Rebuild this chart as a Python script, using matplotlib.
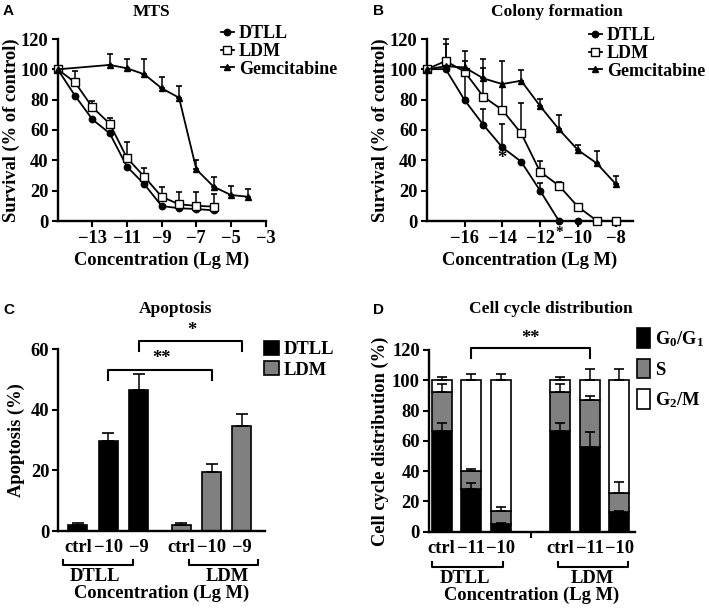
import numpy as np
import matplotlib
matplotlib.use("Agg")
import matplotlib.pyplot as plt

# ---- data ----
# A: MTS
a_x = [-15, -14, -13, -12, -11, -10, -9, -8, -7, -6]
a_dtll = [100, 82.6, 67, 57.8, 35.8, 24.2, 9.9, 8.4, 7.9, 7.0]
a_ldm = [100, 91.4, 75, 64.2, 41.5, 29.2, 16, 11, 10, 9.5]
a_ldm_err = [0, 7.5, 4, 3.8, 10.8, 5.5, 6.2, 8.3, 8.9, 8.3]
a_gem_x = [-15, -12, -11, -10, -9, -8, -7, -6, -5, -4]
a_gem = [100, 102.9, 100.7, 96.7, 87.5, 81.3, 34, 22.6, 17.1, 16]
a_gem_err = [0, 7, 6, 10, 7.5, 7.5, 6, 6.6, 6, 5.3]

# B: colony formation
b_x = [-18, -17, -16, -15, -14, -13, -12, -11, -10, -9, -8]
b_dtll = [100, 100.2, 79.8, 63.3, 48.6, 39.1, 20, 0, 0, 0, 0]
b_dtll_err = [0, 0, 25.9, 10.5, 15.6, 0, 4.8, 0, 0, 0, 0]
b_ldm = [100, 105.5, 98.5, 82, 73.2, 57.8, 32.5, 23.3, 9.4, 0.2, 0]
b_ldm_err = [0, 14.5, 13.5, 24.8, 32.5, 19.8, 7.3, 2.6, 0, 0, 0]
b_gem = [100, 102, 101.3, 94, 90.3, 92.5, 75.8, 60.4, 46.8, 38, 24.4]
b_gem_err = [0, 14.5, 0, 7, 0, 7, 4.6, 9.5, 3.3, 8.4, 5.3]

# C: apoptosis
c_labels = ["ctrl", "\u221210", "\u22129"]
c_dtll = [2.0, 29.8, 46.7]
c_dtll_err = [0.7, 2.7, 5.2]
c_ldm = [2.0, 19.4, 34.8]
c_ldm_err = [0.8, 2.8, 4.0]

# D: cell cycle
d_labels = ["ctrl", "\u221211", "\u221210", "ctrl", "\u221211", "\u221210"]
d_g1 = [66.5, 28.2, 5.0, 66.5, 56.2, 12.8]
d_g1_err = [5.5, 4.2, 0.7, 5.5, 9.4, 1.1]
d_s = [26.0, 11.8, 8.4, 26.0, 30.8, 12.5]
d_s_err = [4.9, 1.6, 3.1, 4.9, 2.9, 7.3]
d_g2m = [7.5, 60.0, 86.6, 7.5, 13.0, 74.7]
d_g2m_err = [2, 4, 4, 2, 7.5, 7.5]

plt.rcParams['font.family'] = ['Liberation Serif', 'DejaVu Serif']
plt.rcParams['font.weight'] = 'bold'
plt.rcParams['axes.labelweight'] = 'bold'
plt.rcParams['mathtext.fontset'] = 'custom'
plt.rcParams['mathtext.rm'] = 'Liberation Serif:bold'
plt.rcParams['mathtext.it'] = 'Liberation Serif:bold'
plt.rcParams['mathtext.bf'] = 'Liberation Serif:bold'
plt.rcParams['mathtext.default'] = 'rm'

W, H = 709, 609
fig = plt.figure(figsize=(W / 100, H / 100), dpi=100)
FS = 13.3
LFS = 13
TFS = 12.5
GREY = '#808080'


def px_axes(l, r, t, b):
    return fig.add_axes([l / W, 1 - b / H, (r - l) / W, (b - t) / H])


def fx(x):
    return x / W


def fy(y):
    return 1 - y / H


def style(ax):
    for s in ['top', 'right']:
        ax.spines[s].set_visible(False)
    for s in ['left', 'bottom']:
        ax.spines[s].set_linewidth(1.7)
    ax.tick_params(width=1.5, length=4, labelsize=FS, pad=2.5)


def up_err(ax, x, y, e, cap=2.5):
    x = np.array(x); y = np.array(y); e = np.array(e)
    m = e > 0
    ax.errorbar(x[m], y[m], yerr=[np.zeros(m.sum()), e[m]], fmt='none',
                ecolor='k', elinewidth=1.1, capsize=cap, capthick=1.2,
                zorder=2, clip_on=False)


def lines(ax, x, dtll, ldm, gx, gem):
    ax.plot(x, dtll, '-o', color='k', lw=1.3, ms=4.6, zorder=3, clip_on=False, label='DTLL')
    ax.plot(x, ldm, '-s', color='k', lw=1.3, ms=5.3, mfc='white', mew=1, zorder=3, clip_on=False, label='LDM')
    ax.plot(gx, gem, '-^', color='k', lw=1.3, ms=4.6, zorder=3, clip_on=False, label='Gemcitabine')


# ---------------- A ----------------
axA = px_axes(57.7, 265.7, 39, 221)
style(axA)
up_err(axA, a_x, a_ldm, a_ldm_err)
up_err(axA, a_gem_x, a_gem, a_gem_err)
lines(axA, a_x, a_dtll, a_ldm, a_gem_x, a_gem)
axA.set_xlim(-15, -3)
axA.set_ylim(0, 120)
axA.set_xticks([-13, -11, -9, -7, -5, -3])
axA.set_yticks(range(0, 121, 20))
axA.set_ylabel('Survival (% of control)', fontsize=FS, labelpad=0.5)
axA.set_xlabel('Concentration (Lg M)', fontsize=FS, labelpad=3)
axA.legend(loc='upper left', bbox_to_anchor=(fx(221), fy(25)), bbox_transform=fig.transFigure,
           frameon=False, fontsize=LFS, handlelength=0.7, handletextpad=0.3,
           labelspacing=0.05, borderpad=0, borderaxespad=0)

# ---------------- B ----------------
axB = px_axes(426.7, 633.3, 39, 221)
style(axB)
up_err(axB, b_x, b_dtll, b_dtll_err)
up_err(axB, b_x, b_ldm, b_ldm_err)
up_err(axB, b_x, b_gem, b_gem_err)
lines(axB, b_x, b_dtll, b_ldm, b_x, b_gem)
axB.set_xlim(-18, -7.07)
axB.set_ylim(0, 120)
axB.set_xticks([-16, -14, -12, -10, -8])
axB.set_yticks(range(0, 121, 20))
axB.set_ylabel('Survival (% of control)', fontsize=FS, labelpad=0.5)
axB.set_xlabel('Concentration (Lg M)', fontsize=FS, labelpad=3)
axB.text(-14, 41, '*', ha='center', va='center', fontsize=FS)
axB.text(-11.0, -0.03, '*', transform=axB.get_xaxis_transform(), ha='center', va='top', fontsize=11)
axB.legend(loc='upper left', bbox_to_anchor=(fx(589), fy(27)), bbox_transform=fig.transFigure,
           frameon=False, fontsize=LFS, handlelength=0.7, handletextpad=0.3,
           labelspacing=0.05, borderpad=0, borderaxespad=0)

# ---------------- C ----------------
axC = px_axes(58.3, 265, 349.3, 531)
style(axC)
c_pos_d = np.array([0, 1, 2])
c_pos_l = np.array([3.4, 4.4, 5.4])
bw = 0.63
axC.bar(c_pos_d, c_dtll, bw, color='k', edgecolor='k', lw=1.2, zorder=2, label='DTLL')
axC.bar(c_pos_l, c_ldm, bw, color=GREY, edgecolor='k', lw=1.2, zorder=2, label='LDM')
up_err(axC, c_pos_d, c_dtll, c_dtll_err, cap=4)
up_err(axC, c_pos_l, c_ldm, c_ldm_err, cap=4)
axC.set_xlim(-0.64, 6.16)
axC.set_ylim(0, 60)
axC.set_yticks([0, 20, 40, 60])
axC.set_xticks(np.concatenate([c_pos_d, c_pos_l]))
axC.set_xticklabels(c_labels + c_labels)
axC.tick_params(axis='x', length=0, pad=6)
axC.set_ylabel('Apoptosis (%)', fontsize=FS, labelpad=4)
trC = axC.get_xaxis_transform()
# significance brackets
axC.plot([1, 1, 4.4, 4.4], [49.9, 53, 53, 49.9], color='k', lw=1.5, clip_on=False)
axC.text(2.75, 54, '**', ha='center', va='bottom', fontsize=FS)
axC.plot([2, 2, 5.4, 5.4], [59.6, 62.9, 62.9, 59.6], color='k', lw=1.5, clip_on=False)
axC.text(3.75, 63.5, '*', ha='center', va='bottom', fontsize=FS)
# group brackets
axC.plot([-0.47, -0.47, 1.81, 1.81], [-0.16, -0.187, -0.187, -0.16], transform=trC, color='k', lw=1.5, clip_on=False)
axC.plot([3.67, 3.67, 5.94, 5.94], [-0.16, -0.187, -0.187, -0.16], transform=trC, color='k', lw=1.5, clip_on=False)
axC.text(0.57, -0.205, 'DTLL', transform=trC, ha='center', va='top', fontsize=FS)
axC.text(4.93, -0.205, 'LDM', transform=trC, ha='center', va='top', fontsize=FS)
fig.text(fx(161.7), fy(593), 'Concentration (Lg M)', ha='center', va='center', fontsize=FS)
axC.legend(loc='upper left', bbox_to_anchor=(fx(264), fy(341)), bbox_transform=fig.transFigure,
           frameon=False, fontsize=FS, handlelength=0.8, handleheight=0.8, handletextpad=0.25,
           labelspacing=0.15, borderpad=0, borderaxespad=0)

# ---------------- D ----------------
axD = px_axes(429, 635, 350, 531.7)
style(axD)
d_pos = np.array([0, 1, 2, 4, 5, 6])
dw = 0.68
g1 = np.array(d_g1); s = np.array(d_s); g2 = np.array(d_g2m)
axD.bar(d_pos, g1, dw, color='k', edgecolor='k', lw=1.2, zorder=2, label='G$_0$/G$_1$')
axD.bar(d_pos, s, dw, bottom=g1, color=GREY, edgecolor='k', lw=1.2, zorder=2, label='S')
axD.bar(d_pos, g2, dw, bottom=g1 + s, color='white', edgecolor='k', lw=1.2, zorder=2, label='G$_2$/M')
up_err(axD, d_pos, g1, d_g1_err, cap=3.6)
up_err(axD, d_pos, g1 + s, d_s_err, cap=3.6)
up_err(axD, d_pos, g1 + s + g2, d_g2m_err, cap=3.6)
axD.set_xlim(-0.43, 6.53)
axD.set_ylim(0, 120)
axD.set_yticks(range(0, 121, 20))
axD.set_xticks(d_pos)
axD.set_xticklabels(d_labels)
axD.set_xticks([3], minor=True)
axD.tick_params(axis='x', which='major', length=0, pad=6)
axD.tick_params(axis='x', which='minor', length=4, width=1.5)
axD.set_ylabel('Cell cycle distribution (%)', fontsize=FS, labelpad=2)
trD = axD.get_xaxis_transform()
axD.plot([1, 1, 5, 5], [115, 121, 121, 115], color='k', lw=1.5, clip_on=False)
axD.text(3, 122, '**', ha='center', va='bottom', fontsize=FS)
axD.plot([-0.34, -0.34, 2.06, 2.06], [-0.168, -0.193, -0.193, -0.168], transform=trD, color='k', lw=1.5, clip_on=False)
axD.plot([3.94, 3.94, 6.28, 6.28], [-0.168, -0.193, -0.193, -0.168], transform=trD, color='k', lw=1.5, clip_on=False)
axD.text(0.79, -0.21, 'DTLL', transform=trD, ha='center', va='top', fontsize=FS)
axD.text(5.1, -0.21, 'LDM', transform=trD, ha='center', va='top', fontsize=FS)
fig.text(fx(531.7), fy(595), 'Concentration (Lg M)', ha='center', va='center', fontsize=FS)
axD.legend(loc='upper left', bbox_to_anchor=(fx(637), fy(328)), bbox_transform=fig.transFigure,
           frameon=False, fontsize=FS, handlelength=0.7, handleheight=1.25, handletextpad=0.3,
           labelspacing=0.55, borderpad=0, borderaxespad=0)

# ---------------- titles and panel letters ----------------
fig.text(fx(152), fy(12), 'MTS', ha='center', va='center', fontsize=TFS)
fig.text(fx(557), fy(12), 'Colony formation', ha='center', va='center', fontsize=TFS)
fig.text(fx(176), fy(309), 'Apoptosis', ha='center', va='center', fontsize=TFS)
fig.text(fx(551), fy(309), 'Cell cycle distribution', ha='center', va='center', fontsize=TFS)
for lx, ly, t in [(3, 11, 'A'), (373, 11, 'B'), (3, 310, 'C'), (373, 310, 'D')]:
    fig.text(fx(lx), fy(ly), t, ha='left', va='center', fontsize=11,
             family=['Liberation Sans', 'DejaVu Sans'], weight='bold')

fig.savefig('out.png', dpi=100)
